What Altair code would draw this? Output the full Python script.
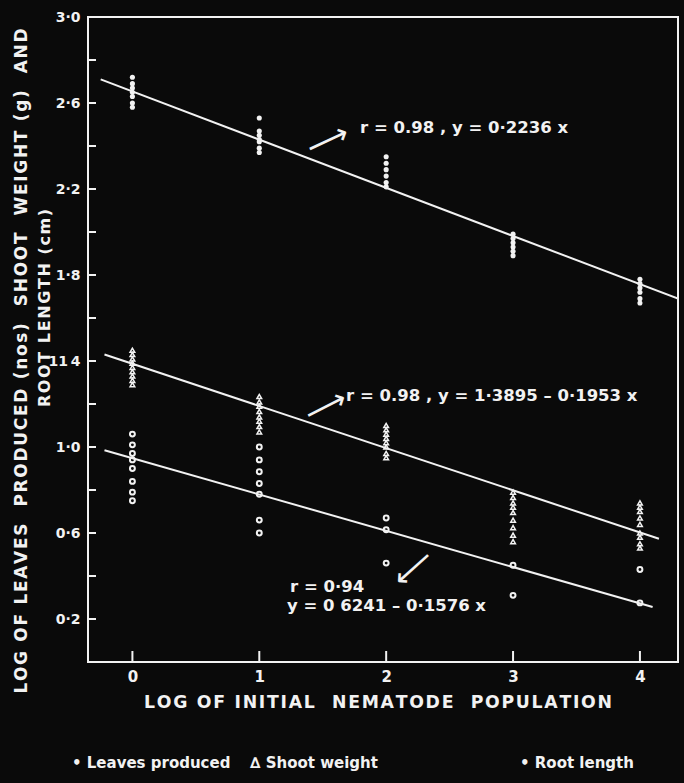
import altair as alt
import pandas as pd

# ---------------- data ----------------
x_levels = [0, 1, 2, 3, 4]

# top cluster (leaves produced)
leaves_vals = [
    [2.72, 2.69, 2.67, 2.65, 2.63, 2.60, 2.58],
    [2.53, 2.47, 2.45, 2.43, 2.42, 2.39, 2.37],
    [2.35, 2.32, 2.29, 2.26, 2.23, 2.21],
    [1.99, 1.97, 1.95, 1.93, 1.91, 1.89],
    [1.78, 1.76, 1.74, 1.72, 1.69, 1.67],
]
# middle cluster (shoot weight)
shoot_vals = [
    [1.45, 1.43, 1.41, 1.39, 1.37, 1.35, 1.33, 1.31, 1.29],
    [1.235, 1.21, 1.19, 1.165, 1.14, 1.12, 1.095, 1.07],
    [1.10, 1.08, 1.06, 1.04, 1.02, 1.00, 0.97, 0.95],
    [0.79, 0.765, 0.74, 0.72, 0.695, 0.66, 0.625, 0.59, 0.56],
    [0.74, 0.72, 0.70, 0.67, 0.64, 0.60, 0.58, 0.55, 0.53],
]
# bottom cluster (root length)
root_vals = [
    [1.06, 1.01, 0.97, 0.94, 0.90, 0.84, 0.79, 0.75],
    [1.00, 0.94, 0.885, 0.83, 0.78, 0.66, 0.60],
    [0.67, 0.615, 0.46],
    [0.45, 0.31],
    [0.43, 0.275],
]

# fitted lines as drawn (start / end points)
line_names = ["Leaves produced", "Shoot weight", "Root length"]
line_x_start = [-0.25, -0.22, -0.22]
line_x_end = [4.30, 4.15, 4.10]
line_y_start = [2.71, 1.43, 0.985]
line_y_end = [1.69, 0.573, 0.256]

y_label_values = [0.2, 0.6, 1.0, 1.4, 1.8, 2.2, 2.6, 3.0]
y_tick_values = [0.2, 0.4, 0.6, 0.8, 1.0, 1.2, 1.4, 1.6, 1.8, 2.0, 2.2, 2.4, 2.6, 2.8]
x_tick_values = [0, 1, 2, 3, 4]

annot_top = "r = 0.98 ,     y = 0·2236 x"
annot_mid = "r = 0.98 ,  y = 1·3895 – 0·1953 x"
annot_low1 = "r = 0·94"
annot_low2 = "y = 0 6241 – 0·1576 x"

y_title_1 = "LOG OF LEAVES  PRODUCED (nos)  SHOOT  WEIGHT (g)  AND"
y_title_2 = "ROOT LENGTH (cm)"
x_title = "LOG OF INITIAL  NEMATODE  POPULATION"
legend_texts = ["• Leaves produced", "∆ Shoot weight", "•  Root  length"]

HAIR = "\u200a"


def spaced(s):
    return HAIR.join(list(s))


# ---------------- build tables ----------------
def flatten(vals):
    rows = []
    for xv, ys_ in zip(x_levels, vals):
        for yv in ys_:
            rows.append({"x": xv, "y": yv})
    return pd.DataFrame(rows)


df_leaves = flatten(leaves_vals)
df_shoot = flatten(shoot_vals)
df_root = flatten(root_vals)
df_lines = pd.DataFrame({"name": line_names, "x": line_x_start, "x2": line_x_end,
                         "y": line_y_start, "y2": line_y_end})
df_ytick = pd.DataFrame({"v": y_tick_values})
df_xtick = pd.DataFrame({"v": x_tick_values})

FONT = "DejaVu Sans"
WHITE = "#f2f2f2"

xs = alt.Scale(domain=[-0.35, 4.3], nice=False, zero=False)
ys = alt.Scale(domain=[0, 3.0], nice=False, zero=False)

label_expr = ("abs(datum.value - 1.4) < 0.01 ? '11\u20094' : "
              "replace(format(datum.value, '.1f'), '.', '·')")

x_axis = alt.Axis(values=x_tick_values, title=None, ticks=False, domain=False, grid=False,
                  labelColor=WHITE, labelFont=FONT, labelFontSize=15, labelFontWeight="bold",
                  labelPadding=7, format="d")
y_axis = alt.Axis(values=y_label_values, title=None, ticks=False, domain=False, grid=False,
                  labelColor=WHITE, labelFont=FONT, labelFontSize=14, labelFontWeight="bold",
                  labelPadding=8, labelExpr=label_expr)

lines = alt.Chart(df_lines).mark_rule(color=WHITE, strokeWidth=2, clip=True).encode(
    x=alt.X("x:Q", scale=xs, axis=x_axis),
    x2="x2:Q",
    y=alt.Y("y:Q", scale=ys, axis=y_axis),
    y2="y2:Q",
)

pts_leaves = alt.Chart(df_leaves).mark_point(shape="circle", filled=True, color=WHITE, size=26, opacity=1).encode(
    x=alt.X("x:Q", scale=xs), y=alt.Y("y:Q", scale=ys))
pts_shoot = alt.Chart(df_shoot).mark_point(shape="triangle-up", filled=False, color=WHITE, size=22,
                                           strokeWidth=1.5, opacity=1).encode(
    x=alt.X("x:Q", scale=xs), y=alt.Y("y:Q", scale=ys))
pts_root = alt.Chart(df_root).mark_point(shape="circle", filled=False, color=WHITE, size=24,
                                         strokeWidth=2, opacity=1).encode(
    x=alt.X("x:Q", scale=xs), y=alt.Y("y:Q", scale=ys))

y_ticks = alt.Chart(df_ytick).mark_rule(color=WHITE, strokeWidth=2).encode(
    y=alt.Y("v:Q", scale=ys), x=alt.value(0), x2=alt.value(8))
x_ticks = alt.Chart(df_xtick).mark_rule(color=WHITE, strokeWidth=2).encode(
    x=alt.X("v:Q", scale=xs), y=alt.value(645), y2=alt.value(634))


def txt(s, x, y, size=15, angle=0, align="left", weight="bold"):
    return alt.Chart(pd.DataFrame({"t": [s]})).mark_text(
        font=FONT, fontSize=size, fontWeight=weight, color=WHITE, align=align,
        baseline="middle", angle=angle).encode(text="t:N", x=alt.value(x), y=alt.value(y))


texts = [
    txt(annot_top, 272, 111, size=16.5),
    txt(annot_mid, 258, 379, size=16.5),
    txt(annot_low1, 202, 570, size=16.5),
    txt(annot_low2, 199, 589, size=16.5),
    txt(spaced(y_title_1), -66, 344, size=17, angle=270, align="center"),
    txt(spaced(y_title_2), -43, 291, size=16, angle=270, align="center"),
    txt(spaced(x_title), 290, 686, size=17.3, align="center"),
    txt(legend_texts[0], -16, 746, size=15),
    txt(legend_texts[1], 162, 746, size=15),
    txt(legend_texts[2], 432, 746, size=15),
    txt("⟶", 240, 124, size=30, angle=335, align="center", weight="normal"),
    txt("⟶", 238, 390, size=30, angle=333, align="center", weight="normal"),
    txt("⟶", 325, 551, size=30, angle=138, align="center", weight="normal"),
]

chart = alt.layer(lines, pts_leaves, pts_shoot, pts_root, y_ticks, x_ticks, *texts).properties(
    width=590, height=645,
    padding={"left": 88, "top": 17, "right": 6, "bottom": 121},
    autosize=alt.AutoSizeParams(type="none"),
    background="#0a0a0a",
).configure_view(stroke=WHITE, strokeWidth=2)

chart.save("out.html", embed_options={"renderer": "svg", "actions": False})
